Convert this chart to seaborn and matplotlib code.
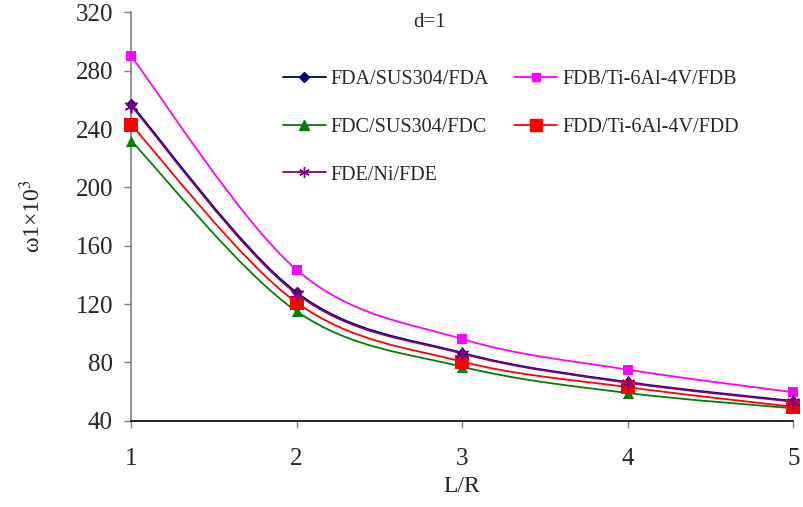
import numpy as np
import pandas as pd
import seaborn as sns
import matplotlib.pyplot as plt
from matplotlib.path import Path
from matplotlib.patches import PathPatch
from matplotlib.lines import Line2D

# data
lr = [1, 2, 3, 4, 5]
fda = [257, 128, 86.5, 66.5, 53.5]
fdb = [290, 143.5, 96, 75, 59.5]
fdc = [232, 115, 77, 59, 48.5]
fdd = [243, 121, 80.5, 63, 49.5]
fde = [256, 127, 86, 66, 53]

series = [
    ("FDA/SUS304/FDA", fda, "#000080", "D", 6),
    ("FDB/Ti-6Al-4V/FDB", fdb, "#FF00FF", "s", 7),
    ("FDC/SUS304/FDC", fdc, "#008000", "^", 8),
    ("FDD/Ti-6Al-4V/FDD", fdd, "#FF0000", "s", 10),
    ("FDE/Ni/FDE", fde, "#800080", (6, 2, 0), 9),
]

sns.set_theme(style="ticks")
plt.rcParams['font.family'] = ['Liberation Serif', 'DejaVu Serif']
plt.rcParams['mathtext.fontset'] = 'stix'

fig = plt.figure(figsize=(8.04, 5.07), dpi=100)
ax = fig.add_axes([0.1629, 0.1702, 0.824, 0.8055])


def smooth_path(x, y):
    # Excel-style smoothed line (bezier through the points)
    p = np.column_stack([x, y]).astype(float)
    pts = [p[0]]
    codes = [Path.MOVETO]
    n = len(p)
    for i in range(n - 1):
        p0 = p[i - 1] if i > 0 else p[i]
        p3 = p[i + 2] if i + 2 < n else p[i + 1]
        c1 = p[i] + (p[i + 1] - p0) / 6
        c2 = p[i + 1] - (p3 - p[i]) / 6
        pts += [c1, c2, p[i + 1]]
        codes += [Path.CURVE4] * 3
    return Path(pts, codes)


handles = {}
for name, vals, col, mk, ms in series:
    ax.add_patch(PathPatch(smooth_path(lr, vals), fill=False, edgecolor=col,
                           lw=1.3, transform=ax.transData, clip_on=False))
    df = pd.DataFrame({"x": lr, "y": vals})
    sns.scatterplot(data=df, x="x", y="y", ax=ax, marker=mk, color=col,
                    edgecolor=col, s=ms ** 2, linewidth=1.2 if mk == (6, 2, 0) else 0,
                    clip_on=False, zorder=3, legend=False)
    handles[name] = Line2D([], [], color=col, lw=1.3, marker=mk,
                           markersize=ms * 0.85, markeredgecolor=col)

ax.set_xlim(1, 5)
ax.set_ylim(40, 320)
ax.set_xticks(lr)
ax.set_yticks(range(40, 321, 40))
ax.tick_params(labelsize=18, length=5, width=1, color="#808080")
ax.tick_params(axis="y", pad=8)
ax.tick_params(axis="x", pad=15)
sns.despine(ax=ax)
ax.spines["left"].set_color("#808080")
ax.spines["bottom"].set_color("black")
ax.spines["left"].set_linewidth(1.2)
ax.spines["bottom"].set_linewidth(1.2)

ax.set_xlabel("L/R", fontsize=17, labelpad=4)
ax.set_ylabel(r"ω1×10$^3$", fontsize=17, labelpad=22)

ax.text(0.45, 0.974, "d=1", transform=ax.transAxes, fontsize=15,
        ha="center", va="center")

order = ["FDA/SUS304/FDA", "FDC/SUS304/FDC", "FDE/Ni/FDE",
         "FDB/Ti-6Al-4V/FDB", "FDD/Ti-6Al-4V/FDD"]
ax.legend([handles[k] for k in order], order, ncol=2, frameon=False,
          fontsize=14.5, handlelength=2.14, handletextpad=0.25,
          columnspacing=1.24, labelspacing=1.42,
          loc="upper left", bbox_to_anchor=(0.2014, 0.903))

fig.savefig("out.png", dpi=100)
